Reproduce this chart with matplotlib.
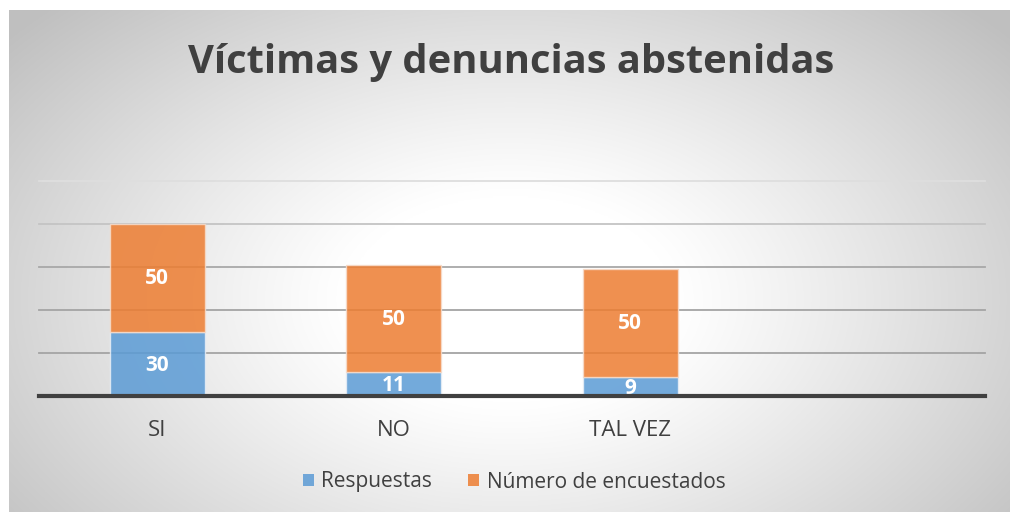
import matplotlib.pyplot as plt
import numpy as np
from matplotlib.patches import Patch

categories = ["SI", "NO", "TAL VEZ", ""]
respuestas = [30, 11, 9, 0]
encuestados = [50, 50, 50, 0]
grid_values = [20, 40, 60, 80, 100]

BLUE = "#5B9BD5"
ORANGE = "#ED7D31"
TEXT = "#404040"

W, H = 1010, 512
fig = plt.figure(figsize=(W / 100, H / 100), dpi=100)
fig.patch.set_facecolor("white")

# radial gradient background (Excel style)
bg = fig.add_axes([9 / W, 0, 1 - 9 / W, 1 - 10 / H])
bg.set_axis_off()
yy, xx = np.mgrid[0:400, 0:800]
cx, cy = 400, 230
r = np.sqrt(((xx - cx) / 520) ** 2 + ((yy - cy) / 330) ** 2)
r = np.clip((r - 0.25) / 0.75, 0, 1)
shade = 1 - 0.25 * r ** 1.1
img = np.dstack([shade, shade, shade])
bg.imshow(img, aspect="auto", extent=[0, 1, 0, 1], origin="upper")
bg.set_xlim(0, 1)
bg.set_ylim(0, 1)

ax = fig.add_axes([39 / W, 1 - 396 / H, (985 - 39) / W, (396 - 181) / H])
ax.patch.set_alpha(0)
x = np.arange(len(categories))
ax.set_xlim(-0.5, len(categories) - 0.5)
ax.set_ylim(0, 100)

grid_colors = ["#a4a4a4", "#a4a4a4", "#a8a8a8", "#c4c4c4", "#dedede"]
for g, c in zip(grid_values, grid_colors):
    ax.axhline(g, color=c, lw=1.3, zorder=1, clip_on=False)

ax.bar(x, respuestas, width=0.4, color=BLUE, alpha=0.85,
       edgecolor="#e8eef6", linewidth=1.0, zorder=2)
ax.bar(x, encuestados, width=0.4, bottom=respuestas, color=ORANGE,
       alpha=0.85, edgecolor="#f6dccb", linewidth=1.0, zorder=2)

for i in range(3):
    ax.text(x[i], respuestas[i] / 2 - 0.8, str(respuestas[i]), ha="center",
            va="center", color="white", fontsize=15, fontweight="bold",
            family="Open Sans", zorder=3)
    ax.text(x[i], respuestas[i] + encuestados[i] / 2 - 0.5, str(encuestados[i]),
            ha="center", va="center", color="white", fontsize=15,
            fontweight="bold", family="Open Sans", zorder=3)

ax.axhline(0, color="#404040", lw=3.0, zorder=4, clip_on=False)
for s in ax.spines.values():
    s.set_visible(False)
ax.set_yticks([])
ax.set_xticks(x)
ax.set_xticklabels(categories, fontsize=16, color=TEXT, family="Open Sans")
ax.tick_params(axis="x", length=0, pad=17)

fig.text(511 / W, 1 - 63 / H, "Víctimas y denuncias abstenidas", ha="center",
         va="center", fontsize=28.7, fontweight="bold", color=TEXT,
         family="Open Sans")

handles = [Patch(facecolor=BLUE, alpha=0.85), Patch(facecolor=ORANGE, alpha=0.85)]
leg = fig.legend(handles, ["Respuestas", "Número de encuestados"],
                 loc="center", bbox_to_anchor=(514 / W, 1 - 482 / H), ncol=2,
                 frameon=False, handlelength=0.55, handleheight=0.55,
                 handletextpad=0.35, columnspacing=1.7,
                 prop={"family": "Open Sans", "size": 15})
for t in leg.get_texts():
    t.set_color(TEXT)

fig.savefig("out.png", dpi=100)
